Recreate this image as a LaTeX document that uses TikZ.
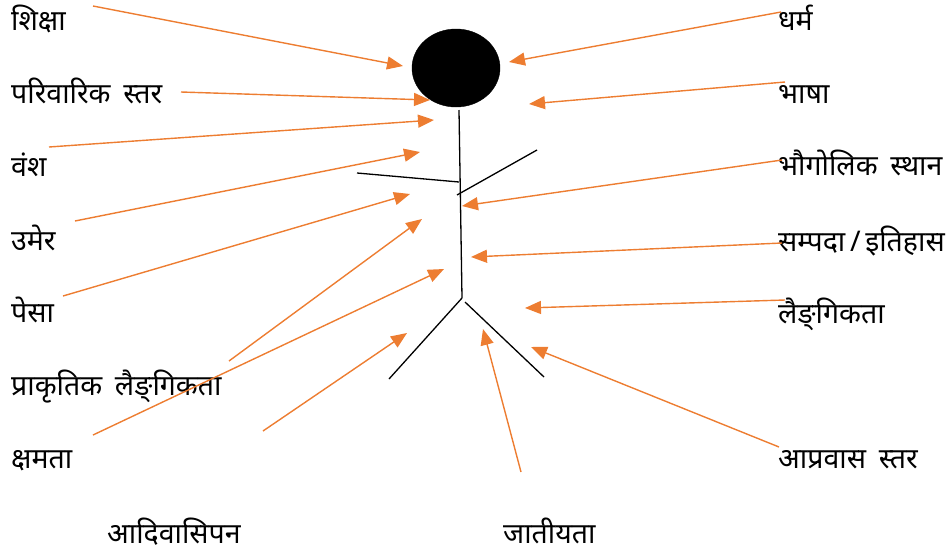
\documentclass[tikz,border=0pt]{standalone}
\usepackage{fontspec}
\newfontfamily\deva[Script=Devanagari]{Noto Sans}
\usetikzlibrary{arrows.meta,shapes.geometric}
\definecolor{arrorange}{HTML}{ED7D31}
\tikzset{
  lbl/.style={anchor=base west, inner sep=0pt, font=\deva\fontsize{28.5}{34}\selectfont},
  pointer/.style={draw=arrorange, line width=1.4pt, -{Triangle[length=16pt,width=13pt]}},
  stick/.style={draw=black, line width=1.3pt}
}
\newcommand{\wsp}{\hspace{0.45em}}
\begin{document}
\begin{tikzpicture}[x=1pt,y=-1pt]
\useasboundingbox (0,0) rectangle (952,555);
% labels left
\node[lbl] (shiksha) at (11,30) {शिक्षा};
\node[lbl] (pariwar) at (11,103) {परिवारिक\wsp स्तर};
\node[lbl] (vansh) at (11,176) {वंश};
\node[lbl] (umer) at (11,250) {उमेर};
\node[lbl] (pesa) at (11,322) {पेसा};
\node[lbl] (prakritik) at (11,395) {प्राकृतिक\wsp लैङ्^^^^200cगिकता};
\node[lbl] (kshamata) at (11,468) {क्षमता};
\node[lbl] (adivasi) at (107,543) {आदिवासिपन};
\node[lbl] (jatiyata) at (503,543) {जातीयता};
% labels right
\node[lbl] (dharma) at (778,30) {धर्म};
\node[lbl] (bhasha) at (778,103) {भाषा};
\node[lbl] (bhaugolik) at (778,175) {भौगोलिक\wsp स्थान};
\node[lbl] (sampada) at (778,251) {सम्पदा\,/\,इतिहास};
\node[lbl] (laingik) at (778,323) {लैङ्^^^^200cगिकता};
\node[lbl] (aprawas) at (778,468) {आप्रवास\wsp स्तर};
% figure
\node[draw=black, fill=black, ellipse, minimum width=88pt, minimum height=78pt, inner sep=0pt] (head) at (456,68) {};
\coordinate (neck) at (459,110);
\coordinate (hip) at (462,298);
\coordinate (larmA) at (357,173);
\coordinate (larmB) at (459,182);
\coordinate (rarmA) at (457,195);
\coordinate (rarmB) at (537,150);
\coordinate (llegB) at (389,379);
\coordinate (rlegA) at (465,302);
\coordinate (rlegB) at (544,377);
\draw[stick] (neck) -- (hip);
\draw[stick] (larmA) -- (larmB);
\draw[stick] (rarmA) -- (rarmB);
\draw[stick] (hip) -- (llegB);
\draw[stick] (rlegA) -- (rlegB);
% arrow endpoints
\coordinate (s1) at (93,6);    \coordinate (t1) at (403,66);
\coordinate (s2) at (181,92);  \coordinate (t2) at (430,100);
\coordinate (s3) at (49,147);  \coordinate (t3) at (434,120);
\coordinate (s4) at (75,221);  \coordinate (t4) at (420,152);
\coordinate (s5) at (63,296);  \coordinate (t5) at (410,194);
\coordinate (s6) at (229,361); \coordinate (t6) at (422,219);
\coordinate (s7) at (93,435);  \coordinate (t7) at (444,269);
\coordinate (s8) at (263,431); \coordinate (t8) at (407,333);
\coordinate (s9) at (521,472); \coordinate (t9) at (483,329);
\coordinate (s10) at (779,447); \coordinate (t10) at (531,347);
\coordinate (s11) at (785,300); \coordinate (t11) at (525,308);
\coordinate (s12) at (782,243); \coordinate (t12) at (471,257);
\coordinate (s13) at (782,160); \coordinate (t13) at (462,206);
\coordinate (s14) at (785,82);  \coordinate (t14) at (529,104);
\coordinate (s15) at (781,12);  \coordinate (t15) at (509,62);
\foreach \i in {1,...,15} { \draw[pointer] (s\i) -- (t\i); }
\end{tikzpicture}
\end{document}
